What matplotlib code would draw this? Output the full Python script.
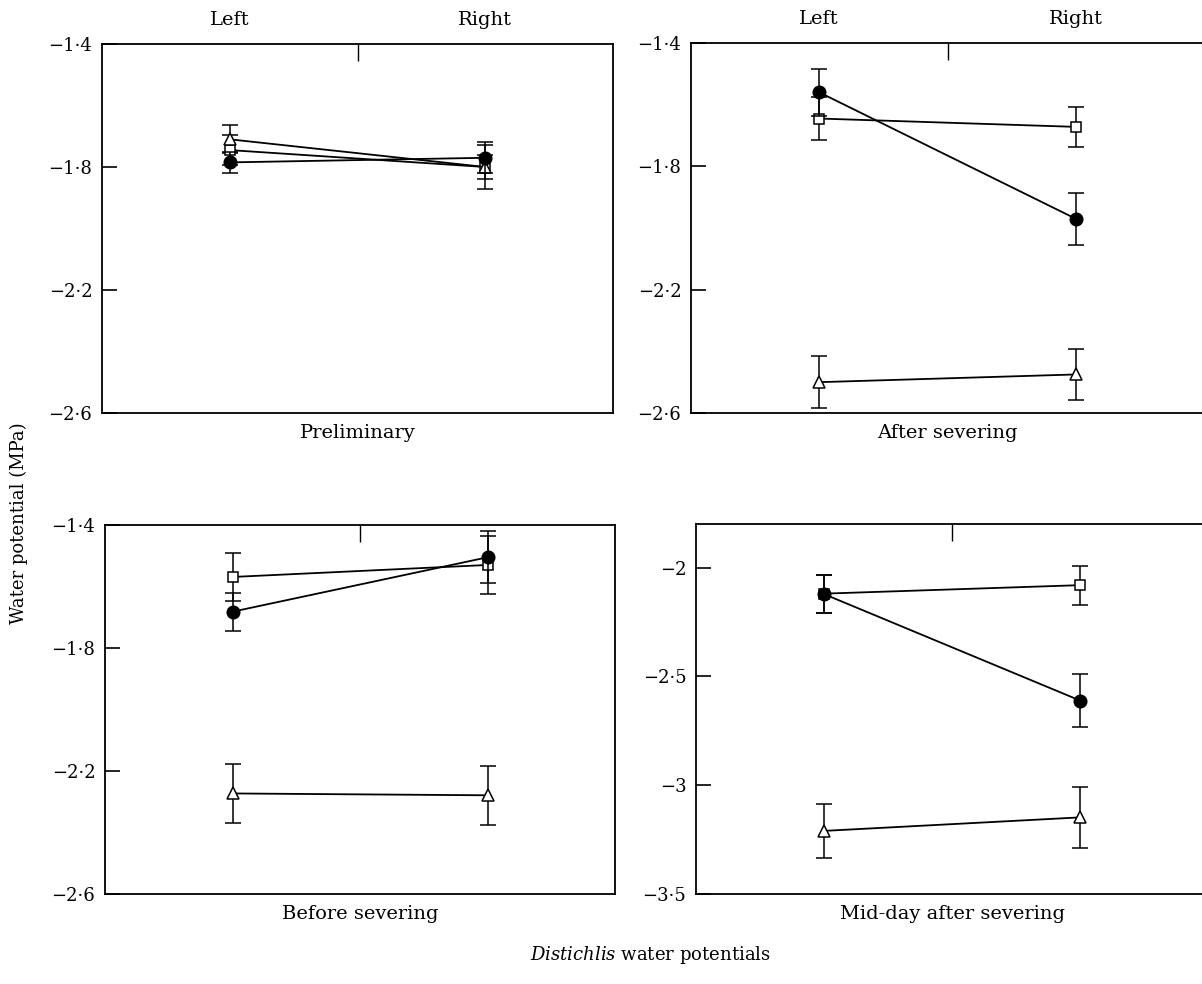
import matplotlib
matplotlib.use("Agg")
import matplotlib.pyplot as plt
from matplotlib.ticker import FixedLocator, FixedFormatter

# ---------------- data ----------------
categories = ["Left", "Right"]
panel_titles = ["Preliminary", "After severing", "Before severing", "Mid-day after severing"]

prelim_circle = [-1.785, -1.770]
prelim_circle_err = [0.035, 0.050]
prelim_square = [-1.745, -1.800]
prelim_square_err = [0.050, 0.040]
prelim_triangle = [-1.710, -1.800]
prelim_triangle_err = [0.045, 0.070]

after_circle = [-1.560, -1.970]
after_circle_err = [0.077, 0.085]
after_square = [-1.645, -1.672]
after_square_err = [0.070, 0.066]
after_triangle = [-2.500, -2.475]
after_triangle_err = [0.085, 0.083]

before_circle = [-1.682, -1.505]
before_circle_err = [0.062, 0.085]
before_square = [-1.569, -1.530]
before_square_err = [0.077, 0.095]
before_triangle = [-2.273, -2.279]
before_triangle_err = [0.097, 0.095]

midday_circle = [-2.122, -2.611]
midday_circle_err = [0.087, 0.122]
midday_square = [-2.120, -2.081]
midday_square_err = [0.087, 0.090]
midday_triangle = [-3.210, -3.148]
midday_triangle_err = [0.125, 0.140]

ticks_a = [-1.4, -1.8, -2.2, -2.6]
ticklabels_a = ["\u22121\u00b74", "\u22121\u00b78", "\u22122\u00b72", "\u22122\u00b76"]
ticks_b = [-2.0, -2.5, -3.0, -3.5]
ticklabels_b = ["\u22122", "\u22122\u00b75", "\u22123", "\u22123\u00b75"]
ylim_a = (-2.6, -1.4)
ylim_b = (-3.5, -1.8)

# ---------------- style ----------------
plt.rcParams['font.family'] = ['DejaVu Serif']
plt.rcParams['mathtext.fontset'] = 'dejavuserif'

W, H = 1202, 984
fig = plt.figure(figsize=(W / 100, H / 100), dpi=100)


def rect(left, top, w, h):
    return [left / W, 1 - (top + h) / H, w / W, h / H]


panels = [
    dict(rect=rect(102, 44, 511, 369), title=panel_titles[0], top_labels=True,
         series=[(prelim_circle, prelim_circle_err, 'o'),
                 (prelim_square, prelim_square_err, 's'),
                 (prelim_triangle, prelim_triangle_err, '^')],
         ticks=ticks_a, labels=ticklabels_a, ylim=ylim_a),
    dict(rect=rect(691, 43, 513, 370), title=panel_titles[1], top_labels=True,
         series=[(after_circle, after_circle_err, 'o'),
                 (after_square, after_square_err, 's'),
                 (after_triangle, after_triangle_err, '^')],
         ticks=ticks_a, labels=ticklabels_a, ylim=ylim_a),
    dict(rect=rect(105, 525, 510, 369), title=panel_titles[2], top_labels=False,
         series=[(before_circle, before_circle_err, 'o'),
                 (before_square, before_square_err, 's'),
                 (before_triangle, before_triangle_err, '^')],
         ticks=ticks_a, labels=ticklabels_a, ylim=ylim_a),
    dict(rect=rect(696, 524, 512, 370), title=panel_titles[3], top_labels=False,
         series=[(midday_circle, midday_circle_err, 'o'),
                 (midday_square, midday_square_err, 's'),
                 (midday_triangle, midday_triangle_err, '^')],
         ticks=ticks_b, labels=ticklabels_b, ylim=ylim_b),
]

xpos = list(range(len(categories)))

for p in panels:
    ax = fig.add_axes(p['rect'])
    for vals, err, mk in p['series']:
        filled = (mk == 'o')
        ms = {'o': 9, 's': 7, '^': 8}[mk]
        ax.errorbar(xpos, vals, yerr=err, fmt='-', marker=mk, color='black',
                    mfc='black' if filled else 'white', mec='black', mew=1.1,
                    ms=ms, lw=1.3, elinewidth=1.1, capsize=5.5, capthick=1.3,
                    zorder=5 if filled else 4)
    ax.set_xlim(-0.5, len(categories) - 0.5)
    ax.set_ylim(*p['ylim'])
    ax.yaxis.set_major_locator(FixedLocator(p['ticks']))
    ax.yaxis.set_major_formatter(FixedFormatter(p['labels']))
    ax.tick_params(axis='y', direction='in', length=11, width=1.2, labelsize=13, pad=7)
    ax.set_xticks([(len(categories) - 1) / 2])
    ax.tick_params(axis='x', direction='in', top=True, bottom=False, labelbottom=False,
                   labeltop=False, length=12, width=1.0)
    for s in ax.spines.values():
        s.set_linewidth(1.3)
    ax.set_xlabel(p['title'], fontsize=14, labelpad=8)
    if p['top_labels']:
        sec = ax.secondary_xaxis('top')
        sec.set_xticks(xpos, labels=categories)
        sec.tick_params(length=0, labelsize=14, pad=11)
        sec.spines['top'].set_visible(False)

fig.text(19 / W, 1 - 523 / H, "Water potential (MPa)", rotation=90,
         ha='center', va='center', fontsize=13)
fig.text(650 / W, 1 - 955 / H, r"$\mathit{Distichlis}$ water potentials",
         ha='center', va='center', fontsize=13)

fig.savefig("out.png", dpi=100)
